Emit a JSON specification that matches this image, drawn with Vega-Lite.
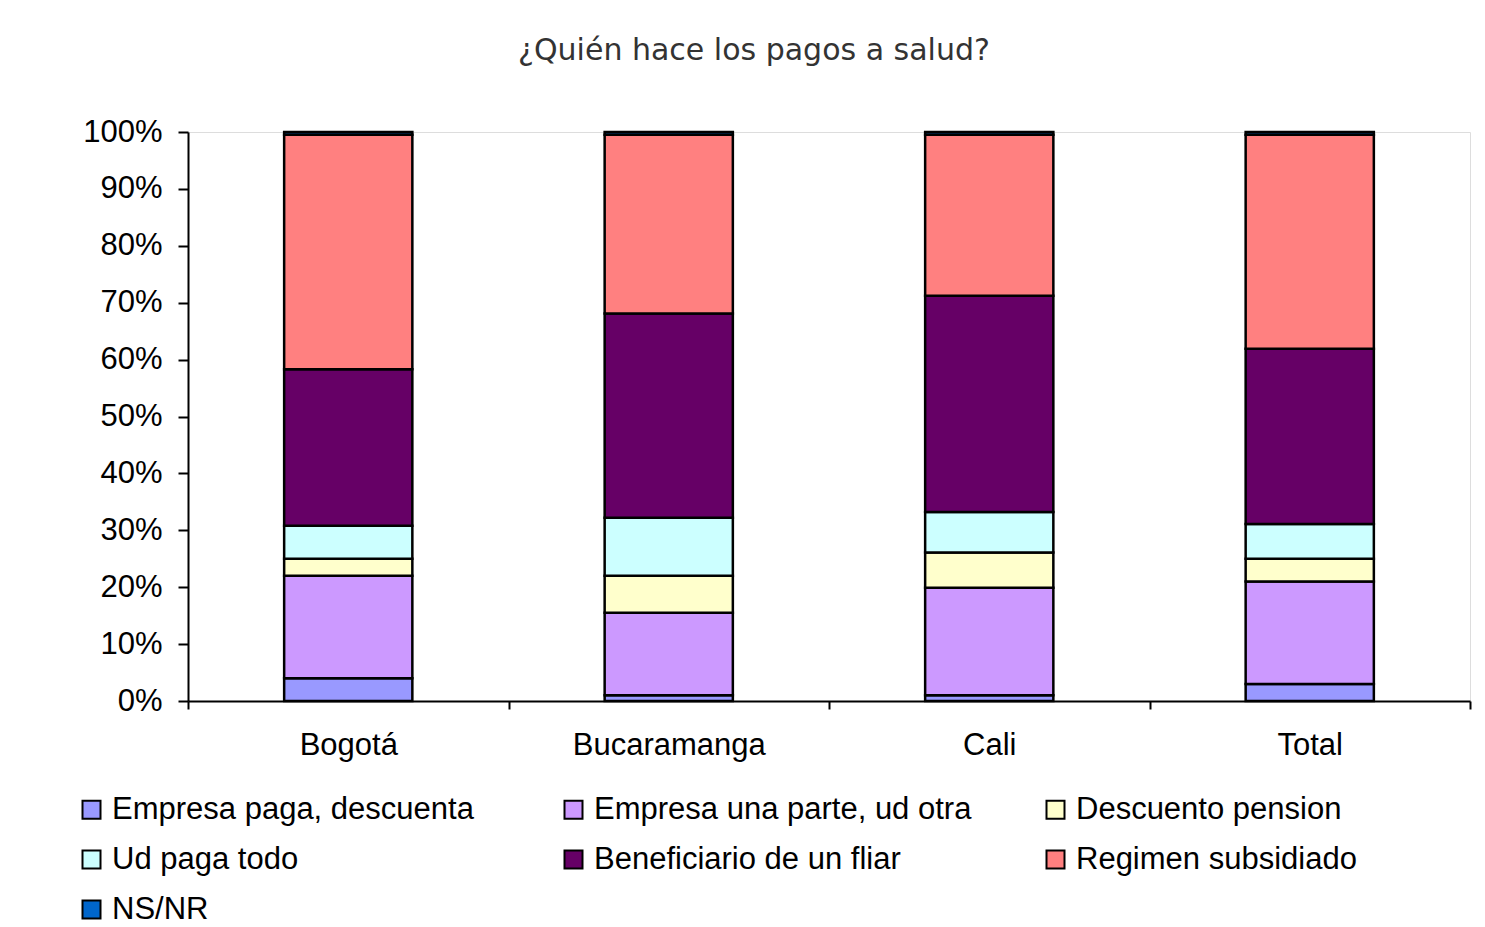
{
  "$schema": "https://vega.github.io/schema/vega-lite/v6.json",
  "width": 1282,
  "height": 569,
  "autosize": "none",
  "padding": {"left": 188, "top": 132, "right": 15, "bottom": 226},
  "background": "white",
  "title": {
    "text": "¿Quién hace los pagos a salud?",
    "fontSize": 30,
    "font": "DejaVu Sans",
    "fontWeight": "normal",
    "color": "#333333",
    "anchor": "middle",
    "frame": "group",
    "dx": -75,
    "offset": 50
  },
  "data": {
    "values": [
      {"ciudad": "Bogotá", "cat": "Empresa paga, descuenta", "k": 1, "v": 0.040},
      {"ciudad": "Bogotá", "cat": "Empresa una parte, ud otra", "k": 2, "v": 0.180},
      {"ciudad": "Bogotá", "cat": "Descuento pension", "k": 3, "v": 0.030},
      {"ciudad": "Bogotá", "cat": "Ud paga todo", "k": 4, "v": 0.058},
      {"ciudad": "Bogotá", "cat": "Beneficiario de un fliar", "k": 5, "v": 0.275},
      {"ciudad": "Bogotá", "cat": "Regimen subsidiado", "k": 6, "v": 0.412},
      {"ciudad": "Bogotá", "cat": "NS/NR", "k": 7, "v": 0.005},
      {"ciudad": "Bucaramanga", "cat": "Empresa paga, descuenta", "k": 1, "v": 0.010},
      {"ciudad": "Bucaramanga", "cat": "Empresa una parte, ud otra", "k": 2, "v": 0.145},
      {"ciudad": "Bucaramanga", "cat": "Descuento pension", "k": 3, "v": 0.065},
      {"ciudad": "Bucaramanga", "cat": "Ud paga todo", "k": 4, "v": 0.102},
      {"ciudad": "Bucaramanga", "cat": "Beneficiario de un fliar", "k": 5, "v": 0.359},
      {"ciudad": "Bucaramanga", "cat": "Regimen subsidiado", "k": 6, "v": 0.314},
      {"ciudad": "Bucaramanga", "cat": "NS/NR", "k": 7, "v": 0.005},
      {"ciudad": "Cali", "cat": "Empresa paga, descuenta", "k": 1, "v": 0.010},
      {"ciudad": "Cali", "cat": "Empresa una parte, ud otra", "k": 2, "v": 0.189},
      {"ciudad": "Cali", "cat": "Descuento pension", "k": 3, "v": 0.062},
      {"ciudad": "Cali", "cat": "Ud paga todo", "k": 4, "v": 0.071},
      {"ciudad": "Cali", "cat": "Beneficiario de un fliar", "k": 5, "v": 0.380},
      {"ciudad": "Cali", "cat": "Regimen subsidiado", "k": 6, "v": 0.283},
      {"ciudad": "Cali", "cat": "NS/NR", "k": 7, "v": 0.005},
      {"ciudad": "Total", "cat": "Empresa paga, descuenta", "k": 1, "v": 0.030},
      {"ciudad": "Total", "cat": "Empresa una parte, ud otra", "k": 2, "v": 0.180},
      {"ciudad": "Total", "cat": "Descuento pension", "k": 3, "v": 0.040},
      {"ciudad": "Total", "cat": "Ud paga todo", "k": 4, "v": 0.061},
      {"ciudad": "Total", "cat": "Beneficiario de un fliar", "k": 5, "v": 0.308},
      {"ciudad": "Total", "cat": "Regimen subsidiado", "k": 6, "v": 0.376},
      {"ciudad": "Total", "cat": "NS/NR", "k": 7, "v": 0.005}
    ]
  },
  "mark": {"type": "bar", "stroke": "black", "strokeWidth": 2.5, "width": {"band": 0.4}},
  "encoding": {
    "x": {
      "field": "ciudad",
      "type": "nominal",
      "sort": ["Bogotá", "Bucaramanga", "Cali", "Total"],
      "scale": {"paddingInner": 0, "paddingOuter": 0},
      "axis": {
        "title": null,
        "labelAngle": 0,
        "tickBand": "extent",
        "labelFontSize": 31,
        "labelFont": "Liberation Sans",
        "labelColor": "black",
        "labelPadding": 21,
        "labelLimit": 400,
        "tickSize": 8,
        "tickColor": "black",
        "tickWidth": 2,
        "domainColor": "black",
        "domainWidth": 2
      }
    },
    "y": {
      "field": "v",
      "type": "quantitative",
      "stack": "zero",
      "scale": {"domain": [0, 1], "nice": false},
      "axis": {
        "title": null,
        "format": ".0%",
        "values": [0, 0.1, 0.2, 0.3, 0.4, 0.5, 0.6, 0.7, 0.8, 0.9, 1],
        "grid": false,
        "labelFontSize": 31,
        "labelFont": "Liberation Sans",
        "labelColor": "black",
        "labelPadding": 16,
        "tickSize": 10,
        "tickColor": "black",
        "tickWidth": 2,
        "domainColor": "black",
        "domainWidth": 2
      }
    },
    "order": {"field": "k", "type": "quantitative"},
    "color": {
      "field": "cat",
      "type": "nominal",
      "scale": {
        "domain": ["Empresa paga, descuenta", "Ud paga todo", "Regimen subsidiado", "Empresa una parte, ud otra", "Beneficiario de un fliar", "NS/NR", "Descuento pension"],
        "range": ["#9999FF", "#CCFFFF", "#FF8080", "#CC99FF", "#660066", "#0066CC", "#FFFFCC"]
      },
      "legend": {
        "title": null,
        "orient": "none",
        "legendX": -112,
        "legendY": 662,
        "columns": 3,
        "gridAlign": "all",
        "columnPadding": 68,
        "rowPadding": 18,
        "symbolType": "square",
        "symbolSize": 324,
        "symbolStrokeColor": "black",
        "symbolStrokeWidth": 2,
        "labelOffset": 5,
        "labelFontSize": 31,
        "labelFont": "Liberation Sans",
        "labelColor": "black",
        "labelLimit": 600
      }
    }
  }
}
